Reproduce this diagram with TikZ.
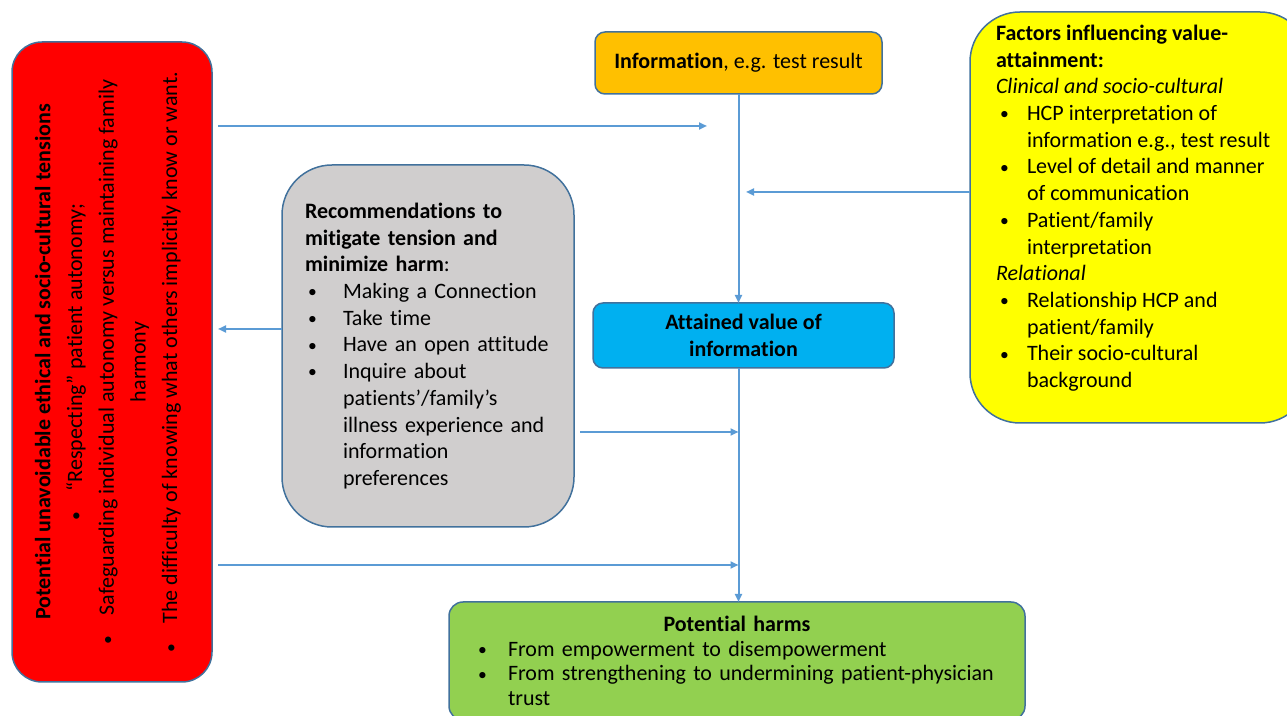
\documentclass[tikz,border=0pt]{standalone}
\usepackage{fontspec}
\setmainfont{Carlito}[Ligatures=NoCommon]
\usepackage{tikz}
\usetikzlibrary{positioning}
\usetikzlibrary{arrows.meta,calc}
\usepackage{color}
\definecolor{edgeblue}{HTML}{41719C}
\definecolor{flowblue}{HTML}{5B9BD5}
\definecolor{tensionred}{HTML}{FF0000}
\definecolor{infoorange}{HTML}{FFC000}
\definecolor{factoryellow}{HTML}{FFFF00}
\definecolor{recgray}{HTML}{D0CECE}
\definecolor{valuecyan}{HTML}{00B0F0}
\definecolor{harmgreen}{HTML}{92D050}
\newcommand{\bodyfont}{\fontsize{11}{13.35}\selectfont}
\newcommand{\dotmark}{\raisebox{0.4pt}{\scalebox{0.8}{\textbullet}}}
\newcommand{\gbul}{\hspace*{1.5pt}\makebox[17.5pt][l]{\dotmark}}
\newcommand{\gind}{\hspace*{19pt}}
\newcommand{\ybul}{\hspace*{2pt}\makebox[13.5pt][l]{\dotmark}}
\newcommand{\yind}{\hspace*{15.5pt}}
\newcommand{\hbul}{\hspace*{1pt}\makebox[15pt][l]{\dotmark}}
\newcommand{\hind}{\hspace*{16pt}}

\begin{document}
\begin{tikzpicture}[x=0.5pt, y=-0.5pt, outer sep=0pt]
\tikzstyle{box}=[
    draw=edgeblue,
    line width=0.75pt,
    rectangle,
    inner sep=0pt,
    font=\bodyfont]
\tikzstyle{tensionbox}=[box,
    fill=tensionred,
    rotate=90,
    minimum width=320pt,
    minimum height=100pt,
    rounded corners=15pt,
    align=center,
    font=\fontsize{11}{15.85}\selectfont]
\tikzstyle{infobox}=[box,
    fill=infoorange,
    minimum width=143.5pt,
    minimum height=31pt,
    rounded corners=5pt,
    anchor=north west]
\tikzstyle{factorbox}=[box,
    fill=factoryellow,
    minimum width=170pt,
    minimum height=205.5pt,
    rounded corners=25pt,
    anchor=north west]
\tikzstyle{recbox}=[box,
    fill=recgray,
    minimum width=146pt,
    minimum height=181pt,
    text width=123pt,
    inner xsep=11.5pt,
    align=left,
    rounded corners=25pt,
    anchor=north west]
\tikzstyle{valuebox}=[box,
    fill=valuecyan,
    minimum width=150.5pt,
    minimum height=32.5pt,
    align=center,
    rounded corners=5pt,
    anchor=north west]
\tikzstyle{harmbox}=[box,
    fill=harmgreen,
    minimum width=288pt,
    minimum height=59pt,
    text width=261pt,
    inner xsep=13.5pt,
    align=left,
    rounded corners=7pt,
    anchor=north west,
    font=\fontsize{11}{12.35}\selectfont]
\tikzstyle{flow}=[
    draw=flowblue,
    line width=1pt,
    -{Triangle[length=4pt,width=3.5pt]}]

\useasboundingbox (0,0) rectangle (1287,716);

% boxes
\node[tensionbox, inner xsep=0pt] (tensions) at (112,362) {};
\node[rotate=90, align=center, inner sep=0pt, font=\fontsize{11}{15.85}\selectfont] (tensiontext) at (108,362) {%
    \textbf{Potential unavoidable ethical and socio-cultural tensions}\\
    \dotmark\hspace{10pt}``Respecting''\ patient autonomy;\\
    \dotmark\hspace{10pt}Safeguarding individual autonomy versus maintaining family\\
    harmony\\
    \dotmark\hspace{10pt}The difficulty of knowing what others implicitly know or want.};
\node[infobox] (info) at (595,32) {\textbf{Information}, e.g. test result};
\node[factorbox] (factors) at (970,12) {};
\node[anchor=north west, align=left, inner sep=0pt, font=\bodyfont] (factortext) at (996,25) {%
    \textbf{Factors influencing value-}\\
    \textbf{attainment:}\\
    \textit{Clinical and socio-cultural}\\
    \ybul HCP interpretation of\\
    \yind information e.g., test result\\
    \ybul Level of detail and manner\\
    \yind of communication\\
    \ybul Patient/family\\
    \yind interpretation\\
    \textit{Relational}\\
    \ybul Relationship HCP and\\
    \yind patient/family\\
    \ybul Their socio-cultural\\
    \yind background};
\node[recbox] (recs) at (282,165) {%
    \textbf{Recommendations to}\\
    \textbf{mitigate tension and}\\
    \textbf{minimize harm}:\\
    \gbul Making a Connection\\
    \gbul Take time\\
    \gbul Have an open attitude\\
    \gbul Inquire about\\
    \gind patients’/family’s\\
    \gind illness experience and\\
    \gind information\\
    \gind preferences};
\node[valuebox] (value) at (593,303) {\textbf{Attained value of}\\\textbf{information}};
\node[harmbox] (harms) at (449,602) {%
    \makebox[261pt]{\textbf{Potential harms}}\\
    \hbul From empowerment to disempowerment\\
    \hbul From strengthening to undermining patient-physician\\
    \hind trust};

% free ends of the side arrows
\coordinate (tensionA) at (218,126);
\coordinate (infoin) at (707,126);
\coordinate (factorin) at (746,192);
\coordinate (recout) at (218,329);
\coordinate (recstart) at (580,432);
\coordinate (tensionB) at (218,565);

% arrows
\draw[flow] (info.south) -- (info.south |- value.north);
\draw[flow] (value.south -| info.south) -- (harms.north -| info.south);
\draw[flow] (tensionA) -- (infoin);
\draw[flow] (factors.west |- factorin) -- (factorin);
\draw[flow] (recs.west |- recout) -- (recout);
\draw[flow] (recstart) -- (recstart -| info.south);
\draw[flow] (tensionB) -- (tensionB -| info.south);

\end{tikzpicture}
\end{document}
